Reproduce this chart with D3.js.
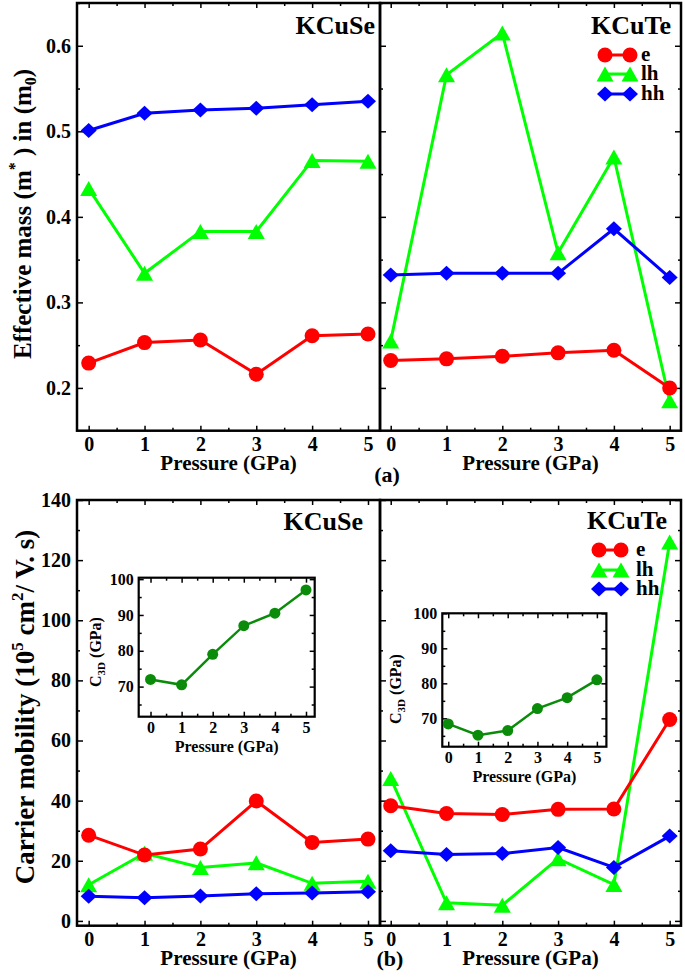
<!DOCTYPE html>
<html>
<head>
<meta charset="utf-8">
<script src="https://cdn.jsdelivr.net/npm/d3@7"></script>
<style>
  body { margin: 0; background: #fff; }
  text { font-family: "Liberation Serif", "Times New Roman", serif; font-weight: bold; fill: #000; }
</style>
</head>
<body>
<script>
// pressure points (GPa)
var pressure = [0, 1, 2, 3, 4, 5];

// effective mass (m0)
var seMassE  = [0.229, 0.253, 0.256, 0.216, 0.261, 0.263];
var seMassLh = [0.433, 0.334, 0.383, 0.383, 0.466, 0.465];
var seMassHh = [0.501, 0.521, 0.525, 0.527, 0.531, 0.535];
var teMassE  = [0.232, 0.234, 0.237, 0.241, 0.244, 0.200];
var teMassLh = [0.255, 0.566, 0.615, 0.358, 0.470, 0.185];
var teMassHh = [0.332, 0.334, 0.334, 0.334, 0.386, 0.329];

// carrier mobility (10^5 cm2/V.s)
var seMobE  = [28.5, 21.9, 23.9, 39.9, 26.1, 27.2];
var seMobLh = [12.0, 22.5, 17.8, 19.3, 12.5, 13.2];
var seMobHh = [8.2, 7.7, 8.3, 9.0, 9.3, 9.7];
var teMobE  = [38.3, 35.7, 35.4, 37.1, 37.2, 67.0];
var teMobLh = [47.4, 6.0, 5.2, 20.7, 12.1, 126.0];
var teMobHh = [23.3, 22.1, 22.4, 24.4, 17.8, 28.2];

// elastic constant C3D (GPa), insets
var seC3D = [72.0, 70.5, 79.0, 87.0, 90.5, 97.0];
var teC3D = [68.4, 65.2, 66.5, 72.8, 75.9, 81.0];

var massTicks = [0.2, 0.3, 0.4, 0.5, 0.6];
var massMinor = [0.25, 0.35, 0.45, 0.55, 0.65];
var mobTicks = [0, 20, 40, 60, 80, 100, 120, 140];
var mobMinor = [10, 30, 50, 70, 90, 110, 130];
var c3dTicks = [70, 80, 90, 100];
var c3dMinor = [65, 75, 85, 95];
var xMinor = [0.5, 1.5, 2.5, 3.5, 4.5];

var carriers = ['e', 'lh', 'hh'];
var colors = { e: '#ff0000', lh: '#00ff00', hh: '#0000ff' };

var svg = d3.select('body').append('svg')
  .attr('width', 685)
  .attr('height', 977);

// marker shapes
var triangle = { draw: function (c, s) { var w = 8.5, h = 7.5; c.moveTo(0, -h); c.lineTo(w, h); c.lineTo(-w, h); c.closePath(); } };
var diamond = { draw: function (c, s) { var w = 8, h = 7.5; c.moveTo(0, -h); c.lineTo(w, 0); c.lineTo(0, h); c.lineTo(-w, 0); c.closePath(); } };
var dot = { draw: function (c, s) { c.moveTo(7.5, 0); c.arc(0, 0, 7.5, 0, 2 * Math.PI); } };
var shapes = { e: dot, lh: triangle, hh: diamond };

function styleText(g, size) {
  g.attr('font-family', null);
  g.selectAll('text').style('font-size', size + 'px');
  g.select('.domain').remove();
  g.selectAll('line').attr('stroke', '#000').attr('stroke-width', 1.5);
}

function drawFrame(g, x0, x1, y0, y1, sw) {
  g.append('rect')
    .attr('x', x0).attr('y', y0)
    .attr('width', x1 - x0).attr('height', y1 - y0)
    .attr('fill', 'none').attr('stroke', '#000').attr('stroke-width', sw);
}

// one main panel
function panel(p) {
  var g = svg.append('g');
  var x = d3.scaleLinear().domain(p.xd).range([p.x0, p.x1]);
  var y = d3.scaleLinear().domain(p.yd).range([p.y1, p.y0]);

  g.append('g').attr('transform', 'translate(0,' + p.y1 + ')')
    .call(d3.axisBottom(x).tickValues(pressure).tickSize(-5).tickPadding(6).tickFormat(d3.format('d')))
    .call(styleText, 20);
  g.append('g').attr('transform', 'translate(0,' + p.y1 + ')')
    .call(d3.axisBottom(x).tickValues(xMinor).tickSize(-3).tickFormat(''))
    .call(styleText, 20);
  g.append('g').attr('transform', 'translate(0,' + p.y0 + ')')
    .call(d3.axisTop(x).tickValues(pressure).tickSize(-5).tickFormat(''))
    .call(styleText, 20);
  g.append('g').attr('transform', 'translate(0,' + p.y0 + ')')
    .call(d3.axisTop(x).tickValues(xMinor).tickSize(-3).tickFormat(''))
    .call(styleText, 20);

  if (p.left) {
    g.append('g').attr('transform', 'translate(' + p.x0 + ',0)')
      .call(d3.axisLeft(y).tickValues(p.yt).tickSize(-6).tickPadding(6).tickFormat(p.fmt))
      .call(styleText, 20);
    g.append('g').attr('transform', 'translate(' + p.x0 + ',0)')
      .call(d3.axisLeft(y).tickValues(p.ym).tickSize(-3).tickFormat(''))
      .call(styleText, 20);
  } else {
    g.append('g').attr('transform', 'translate(' + p.x0 + ',0)')
      .call(d3.axisLeft(y).tickValues(p.yt).tickSize(-6).tickFormat(''))
      .call(styleText, 20);
    g.append('g').attr('transform', 'translate(' + p.x0 + ',0)')
      .call(d3.axisLeft(y).tickValues(p.ym).tickSize(-3).tickFormat(''))
      .call(styleText, 20);
    g.append('g').attr('transform', 'translate(' + p.x1 + ',0)')
      .call(d3.axisRight(y).tickValues(p.yt).tickSize(-6).tickFormat(''))
      .call(styleText, 20);
    g.append('g').attr('transform', 'translate(' + p.x1 + ',0)')
      .call(d3.axisRight(y).tickValues(p.ym).tickSize(-3).tickFormat(''))
      .call(styleText, 20);
  }
  drawFrame(g, p.x0, p.x1, p.y0, p.y1, 2.5);

  g.append('text')
    .attr('x', (p.x0 + p.x1) / 2).attr('y', p.y1 + 39.5)
    .attr('text-anchor', 'middle').style('font-size', '21px')
    .text('Pressure (GPa)');
  g.append('text')
    .attr('x', p.labelX).attr('y', p.labelY)
    .attr('text-anchor', 'end').style('font-size', '26px')
    .text(p.name);

  var line = d3.line().x(function (d, i) { return x(pressure[i]); }).y(function (d) { return y(d); });
  ['lh', 'hh', 'e'].forEach(function (k) {
    var vals = p.series[k];
    g.append('path').datum(vals)
      .attr('d', line).attr('fill', 'none')
      .attr('stroke', colors[k]).attr('stroke-width', 3);
    g.selectAll('.m' + k).data(vals).enter().append('path')
      .attr('transform', function (d, i) { return 'translate(' + x(pressure[i]) + ',' + y(d) + ')'; })
      .attr('d', d3.symbol().type(shapes[k]))
      .attr('fill', colors[k]);
  });

  if (p.legend) {
    var lg = g.append('g');
    carriers.forEach(function (k, i) {
      var ly = p.legend.y[i];
      lg.append('line')
        .attr('x1', p.legend.x0).attr('x2', p.legend.x1)
        .attr('y1', ly).attr('y2', ly)
        .attr('stroke', colors[k]).attr('stroke-width', 3);
      [p.legend.x0, p.legend.x1].forEach(function (mx) {
        lg.append('path')
          .attr('transform', 'translate(' + mx + ',' + ly + ')')
          .attr('d', d3.symbol().type(shapes[k]))
          .attr('fill', colors[k]);
      });
      lg.append('text')
        .attr('x', p.legend.tx).attr('y', ly + 6)
        .style('font-size', '21px')
        .text(k);
    });
  }
  return g;
}

// inset panel
function inset(p) {
  var g = svg.append('g');
  var x = d3.scaleLinear().domain(p.xd).range([p.x0, p.x1]);
  var y = d3.scaleLinear().domain(p.yd).range([p.y1, p.y0]);
  g.append('rect').attr('x', p.x0).attr('y', p.y0)
    .attr('width', p.x1 - p.x0).attr('height', p.y1 - p.y0).attr('fill', '#fff');

  g.append('g').attr('transform', 'translate(0,' + p.y1 + ')')
    .call(d3.axisBottom(x).tickValues(pressure).tickSize(-5).tickPadding(5).tickFormat(d3.format('d')))
    .call(styleText, 16);
  g.append('g').attr('transform', 'translate(0,' + p.y1 + ')')
    .call(d3.axisBottom(x).tickValues(xMinor).tickSize(-3).tickFormat(''))
    .call(styleText, 16);
  g.append('g').attr('transform', 'translate(0,' + p.y0 + ')')
    .call(d3.axisTop(x).tickValues(pressure).tickSize(-5).tickFormat(''))
    .call(styleText, 16);
  g.append('g').attr('transform', 'translate(0,' + p.y0 + ')')
    .call(d3.axisTop(x).tickValues(xMinor).tickSize(-3).tickFormat(''))
    .call(styleText, 16);
  g.append('g').attr('transform', 'translate(' + p.x0 + ',0)')
    .call(d3.axisLeft(y).tickValues(c3dTicks).tickSize(-5).tickPadding(5))
    .call(styleText, 16);
  g.append('g').attr('transform', 'translate(' + p.x0 + ',0)')
    .call(d3.axisLeft(y).tickValues(c3dMinor).tickSize(-3).tickFormat(''))
    .call(styleText, 16);
  g.append('g').attr('transform', 'translate(' + p.x1 + ',0)')
    .call(d3.axisRight(y).tickValues(c3dTicks).tickSize(-5).tickFormat(''))
    .call(styleText, 16);
  g.append('g').attr('transform', 'translate(' + p.x1 + ',0)')
    .call(d3.axisRight(y).tickValues(c3dMinor).tickSize(-3).tickFormat(''))
    .call(styleText, 16);
  drawFrame(g, p.x0, p.x1, p.y0, p.y1, 2.2);

  g.append('text')
    .attr('x', (p.x0 + p.x1) / 2).attr('y', p.y1 + 35)
    .attr('text-anchor', 'middle').style('font-size', '16px')
    .text('Pressure (GPa)');
  var t = g.append('text')
    .attr('transform', 'translate(' + p.ty[0] + ',' + p.ty[1] + ') rotate(-90)')
    .attr('text-anchor', 'middle').style('font-size', '16px');
  t.append('tspan').text('C');
  t.append('tspan').attr('dy', 4).style('font-size', '11px').text('3D');
  t.append('tspan').attr('dy', -4).text(' (GPa)');

  var line = d3.line().x(function (d, i) { return x(pressure[i]); }).y(function (d) { return y(d); });
  g.append('path').datum(p.vals).attr('d', line)
    .attr('fill', 'none').attr('stroke', '#0a8c0a').attr('stroke-width', 2.5);
  g.selectAll('.c3d').data(p.vals).enter().append('circle')
    .attr('cx', function (d, i) { return x(pressure[i]); })
    .attr('cy', function (d) { return y(d); })
    .attr('r', 5.5).attr('fill', '#0a8c0a');
}

var fmtMass = d3.format('.1f');
var fmtMob = d3.format('d');

panel({ x0: 77, x1: 380, y0: 3, y1: 430.7, xd: [-0.209, 5.215], yd: [0.15, 0.65],
  yt: massTicks, ym: massMinor, fmt: fmtMass, left: true, name: 'KCuSe', labelX: 375, labelY: 34,
  series: { e: seMassE, lh: seMassLh, hh: seMassHh } });
panel({ x0: 380, x1: 681, y0: 3, y1: 430.7, xd: [-0.192, 5.203], yd: [0.15, 0.65],
  yt: massTicks, ym: massMinor, fmt: fmtMass, left: false, name: 'KCuTe', labelX: 671, labelY: 34,
  series: { e: teMassE, lh: teMassLh, hh: teMassHh },
  legend: { x0: 605, x1: 630, tx: 641, y: [55, 74, 94] } });
panel({ x0: 77, x1: 380, y0: 500, y1: 925.7, xd: [-0.209, 5.215], yd: [-1.6, 140],
  yt: mobTicks, ym: mobMinor, fmt: fmtMob, left: true, name: 'KCuSe', labelX: 363, labelY: 530,
  series: { e: seMobE, lh: seMobLh, hh: seMobHh } });
panel({ x0: 380, x1: 681, y0: 500, y1: 925.7, xd: [-0.192, 5.203], yd: [-1.6, 140],
  yt: mobTicks, ym: mobMinor, fmt: fmtMob, left: false, name: 'KCuTe', labelX: 667, labelY: 529,
  series: { e: teMobE, lh: teMobLh, hh: teMobHh },
  legend: { x0: 599, x1: 621, tx: 636, y: [550, 570, 589] } });

inset({ x0: 138.7, x1: 314.7, y0: 577.7, y1: 716.7, xd: [-0.38, 5.28], yd: [61.6, 100.4],
  vals: seC3D, ty: [101, 652] });
inset({ x0: 442.3, x1: 606.4, y0: 613.3, y1: 746.7, xd: [-0.2, 5.32], yd: [61.9, 100],
  vals: teC3D, ty: [401, 689] });

// y titles
var t1 = svg.append('text')
  .attr('transform', 'translate(31,214) rotate(-90)')
  .attr('text-anchor', 'middle').style('font-size', '25px');
t1.append('tspan').text('Effective mass (m');
t1.append('tspan').attr('dy', -11).style('font-size', '16px').text('*');
t1.append('tspan').attr('dy', 11).text(' ) in (m');
t1.append('tspan').attr('dy', 5).style('font-size', '16px').text('0');
t1.append('tspan').attr('dy', -5).text(')');

var t2 = svg.append('text')
  .attr('transform', 'translate(34,707) rotate(-90)')
  .attr('text-anchor', 'middle').style('font-size', '27px');
t2.append('tspan').text('Carrier mobility (10');
t2.append('tspan').attr('dy', -11).style('font-size', '17px').text('5');
t2.append('tspan').attr('dy', 11).text(' cm');
t2.append('tspan').attr('dy', -11).style('font-size', '17px').text('2');
t2.append('tspan').attr('dy', 11).text('/ V. s)');

// panel captions
svg.append('text').attr('x', 387).attr('y', 482).attr('text-anchor', 'middle')
  .style('font-size', '22px').text('(a)');
svg.append('text').attr('x', 390).attr('y', 966).attr('text-anchor', 'middle')
  .style('font-size', '22px').text('(b)');

// one serif face for every label
svg.selectAll('text')
  .style('font-family', '"Liberation Serif", "Times New Roman", serif')
  .style('font-weight', 'bold');
</script>
</body>
</html>
